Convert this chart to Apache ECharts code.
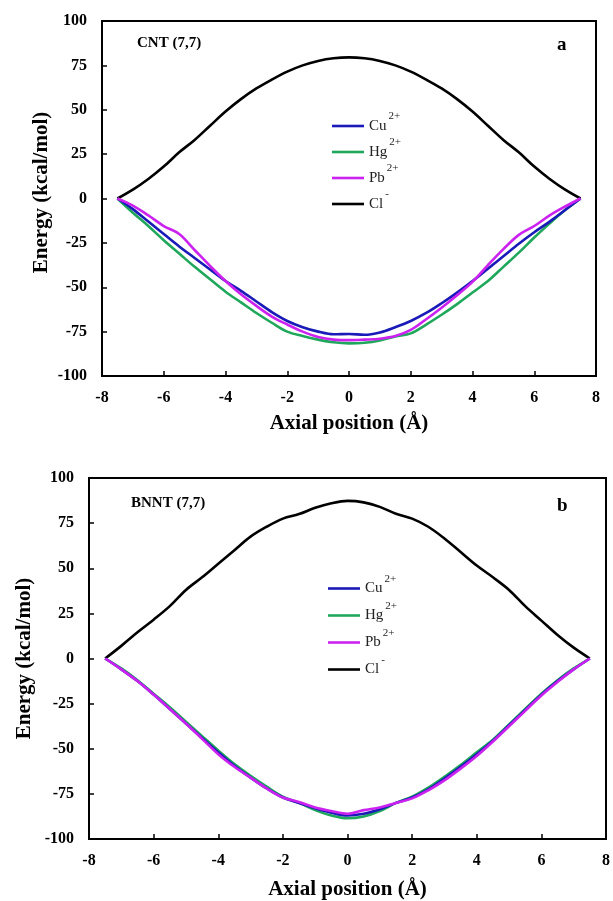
<!DOCTYPE html>
<html>
<head>
<meta charset="utf-8">
<script src="https://cdn.jsdelivr.net/npm/echarts@6/dist/echarts.min.js"></script>
<style>html,body{margin:0;padding:0;background:#fff}#c{width:613px;height:901px}</style>
</head>
<body>
<div id="c"></div>
<script>
// Axial positions (Å)
const positions = [-7.5,-7,-6.5,-6,-5.5,-5,-4.5,-4,-3.5,-3,-2.5,-2,-1.5,-1,-0.5,0,0.5,1,1.5,2,2.5,3,3.5,4,4.5,5,5.5,6,6.5,7,7.5];

// Panel a: CNT (7,7)
const cntCu = [0,-6,-13,-20,-27,-33.5,-40,-46.5,-52,-58,-64,-69,-72.5,-75,-76.5,-76.3,-76.8,-75.5,-72.5,-69,-64.5,-59,-53,-46.5,-39.5,-32.5,-25.5,-19,-13,-6.5,0];
const cntHg = [0,-8,-15.5,-23.5,-31,-38.5,-45.5,-52.5,-58.5,-64.5,-70,-75,-77.5,-79.5,-81,-81.6,-81.3,-80,-77.8,-76,-71,-65.5,-59.5,-53,-46.5,-38.5,-30.5,-22,-14,-6.5,0];
const cntPb = [0,-4,-9.5,-15.5,-20,-29,-38,-46.5,-54,-60.5,-66.5,-71,-75,-78,-79.5,-79.8,-79.5,-79,-77.5,-74,-68,-61.5,-54.5,-47,-37.5,-28.5,-20.5,-15.5,-9.5,-4.5,0];
const cntCl = [0,5,11,18,26,33,41,49,56,62,67,71.5,75,77.5,79,79.5,79,77.5,75,71.5,67,62,56,49,41,33,26,18,11,5,0];

// Panel b: BNNT (7,7)
const bnntCu = [0,-6,-12.5,-20,-28,-36,-44,-52,-59.5,-66,-72,-77,-80,-83,-85.5,-87,-86,-83.5,-80,-77,-72.5,-66.5,-60,-53,-45.5,-37,-28.5,-20,-12.5,-6,0];
const bnntHg = [0,-5.5,-12,-19.5,-27,-35,-43,-51,-58.5,-65,-71,-76.5,-80,-84,-87,-88.5,-87.5,-84.5,-80,-76.5,-71.5,-65.5,-59,-52,-45,-36.5,-28,-19.5,-12,-5.5,0];
const bnntPb = [0,-6,-12.5,-20,-28,-36,-44.5,-53,-60,-66,-72,-77,-79.5,-82.5,-84.5,-86,-84,-82.5,-80,-77.5,-73,-67.5,-61,-54,-46,-37.5,-29,-20.5,-13,-6,0];
const bnntCl = [0,7,14.5,21.5,29,38,45,52.5,60,67.5,73,77.5,80,83.5,86,87.3,86.5,84,80.2,77.5,73,66.5,59,51.5,45,38,29,21,13,6,0];

// Labels
const ionNames = ['Cu','Hg','Pb','Cl'];
const ionCharges = ['2+','2+','2+','-'];
const panelNames = ['CNT (7,7)','BNNT (7,7)'];
const panelLetters = ['a','b'];
const xAxisTitle = 'Axial position (Å)';
const yAxisTitle = 'Energy (kcal/mol)';

const colors = {Cu:'#1a1ab8', Hg:'#1fa85c', Pb:'#cc22f0', Cl:'#000000'};
const FONT = "'Liberation Serif','Times New Roman',serif";

function pairs(ys){ return positions.map((x,i)=>[x, ys[i]]); }

const panels = [
  {Cu:cntCu, Hg:cntHg, Pb:cntPb, Cl:cntCl},
  {Cu:bnntCu, Hg:bnntHg, Pb:bnntPb, Cl:bnntCl}
];
const drawOrder = ['Cl','Hg','Cu','Pb'];
const zOf = {Cl:2, Hg:3, Cu:4, Pb:5};

const series = [];
panels.forEach((p, gi) => {
  drawOrder.forEach(name => {
    series.push({
      name: name, type: 'line', xAxisIndex: gi, yAxisIndex: gi,
      data: pairs(p[name]), smooth: 0.35, showSymbol: false, symbol: 'none',
      z: zOf[name],
      lineStyle: {color: colors[name], width: 2.6},
      itemStyle: {color: colors[name]}
    });
  });
});

const grids = [
  {left: 102, top: 21, width: 494, height: 355},
  {left: 89, top: 478, width: 519, height: 364}
];

function xAxisCfg(gi, gap){
  return {
    type: 'value', gridIndex: gi, min: -8, max: 8, interval: 2,
    name: xAxisTitle, nameLocation: 'middle', nameGap: gap, nameMoveOverlap: false,
    nameTextStyle: {fontFamily: FONT, fontWeight: 'bold', fontSize: 21, color: '#000'},
    axisLine: {show: true, onZero: false, lineStyle: {color: '#000', width: 2}},
    axisTick: {show: true, inside: true, length: 5, lineStyle: {color: '#000', width: 1.5}},
    axisLabel: {fontFamily: FONT, fontWeight: 'bold', fontSize: 16, color: '#000', margin: 14},
    splitLine: {show: false}
  };
}
function yAxisCfg(gi, gap, shift){
  return {
    type: 'value', gridIndex: gi, min: -100, max: 100, interval: 25,
    name: yAxisTitle, nameLocation: 'middle', nameGap: gap, nameRotate: 90, nameMoveOverlap: false,
    nameTextStyle: {fontFamily: FONT, fontWeight: 'bold', fontSize: 21, color: '#000', padding: [0,0,0,shift]},
    axisLine: {show: true, onZero: false, lineStyle: {color: '#000', width: 2}},
    axisTick: {show: true, inside: true, length: 5, lineStyle: {color: '#000', width: 1.5}},
    axisLabel: {fontFamily: FONT, fontWeight: 'bold', fontSize: 16, color: '#000', margin: 15},
    splitLine: {show: false}
  };
}

function legendCfg(left, top, gap){
  return {
    orient: 'vertical', left: left, top: top, padding: 0,
    itemWidth: 32, itemHeight: 14, itemGap: gap,
    data: ionNames,
    icon: 'path://M0,6 L32,6 L32,8.6 L0,8.6 Z',
    formatter: function(name){
      const i = ionNames.indexOf(name);
      return '{n|' + name + '}{s|' + ionCharges[i] + '}';
    },
    textStyle: {
      color: '#222',
      rich: {
        n: {fontFamily: FONT, fontSize: 15, lineHeight: 22, color: '#222'},
        s: {fontFamily: FONT, fontSize: 11, color: '#222', padding: [0,0,19,2]}
      }
    }
  };
}

function titleCfg(text, left, top, size){
  return {text: text, left: left, top: top, padding: 0,
    textStyle: {fontFamily: FONT, fontWeight: 'bold', fontSize: size, color: '#000'}};
}

const option = {
  animation: false,
  backgroundColor: '#fff',
  title: [
    titleCfg(panelNames[0], 137, 36, 15),
    titleCfg(panelLetters[0], 557, 36, 19),
    titleCfg(panelNames[1], 131, 496, 15),
    titleCfg(panelLetters[1], 557, 497, 19)
  ],
  legend: [legendCfg(332, 111, 3.5), legendCfg(328, 573.5, 4.5)],
  grid: grids.map(g => Object.assign({show: true, borderColor: '#000', borderWidth: 2, containLabel: false}, g)),
  xAxis: [xAxisCfg(0, 37), xAxisCfg(1, 40)],
  yAxis: [yAxisCfg(0, 50, 12), yAxisCfg(1, 54, 0)],
  series: series
};

const chart = echarts.init(document.getElementById('c'), null, {renderer: 'canvas'});
chart.setOption(option);
</script>
</body>
</html>
